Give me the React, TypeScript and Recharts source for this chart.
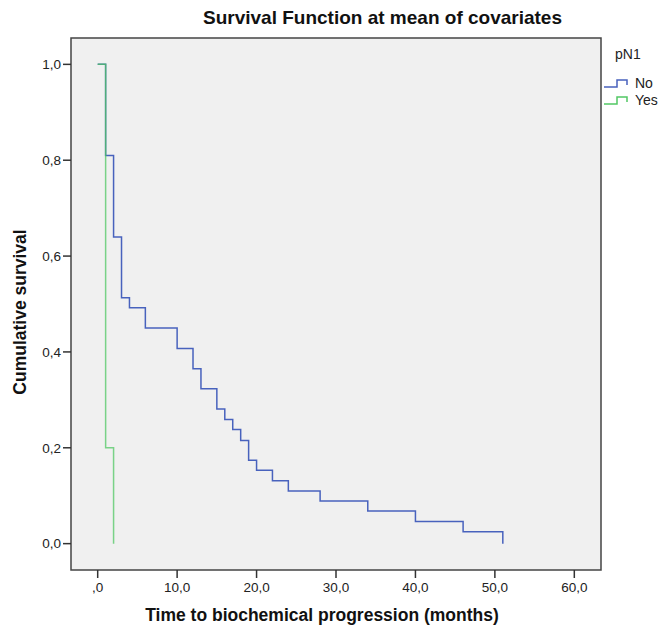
import React from "react";
import {
  LineChart,
  Line,
  XAxis,
  YAxis,
  CartesianGrid,
  ReferenceArea,
} from "recharts";

// Kaplan-Meier estimates, pN1 = No
const noTimes = [0, 1, 2, 3, 4, 6, 10, 12, 13, 15, 16, 17, 18, 19, 20, 22, 24, 28, 34, 40, 46, 51];
const noSurvival = [
  1, 0.81, 0.64, 0.513, 0.492, 0.45, 0.407, 0.365, 0.323, 0.281, 0.259, 0.238, 0.215, 0.174,
  0.153, 0.131, 0.11, 0.089, 0.068, 0.046, 0.025, 0,
];

// pN1 = Yes
const yesTimes = [0, 1, 2];
const yesSurvival = [1, 0.2, 0];

const xTicks = [0, 10, 20, 30, 40, 50, 60];
const yTicks = [0, 0.2, 0.4, 0.6, 0.8, 1];

const groups = [
  { name: "No", color: "#4862bd" },
  { name: "Yes", color: "#52c864" },
];

const noData = noTimes.map((t, i) => ({ t, s: noSurvival[i] }));
const yesData = yesTimes.map((t, i) => ({ t, s: yesSurvival[i] }));

const X_DOMAIN: [number, number] = [-3.36, 63.36];
const Y_DOMAIN: [number, number] = [-0.055, 1.055];

const FONT = "'Liberation Sans', Arial, sans-serif";

// SPSS style decimals: ",0" for zero on the time axis
const fmtX = (v: number) => (v === 0 ? ",0" : v.toFixed(1).replace(".", ","));
const fmtY = (v: number) => v.toFixed(1).replace(".", ",");

const StepIcon = ({ color }: { color: string }) => (
  <svg width={28} height={12} style={{ display: "block" }}>
    <path d="M1,10 H14 V3 H24 V8" fill="none" stroke={color} strokeWidth={1.5} />
  </svg>
);

const LegendBox = () => (
  <div
    style={{
      position: "absolute",
      left: 603,
      top: 46,
      fontFamily: FONT,
      fontSize: 14,
      color: "#222",
    }}
  >
    <div style={{ paddingLeft: 12, marginBottom: 12 }}>pN1</div>
    {groups.map((g) => (
      <div key={g.name} style={{ display: "flex", alignItems: "center", height: 17 }}>
        <StepIcon color={g.color} />
        <span style={{ marginLeft: 4 }}>{g.name}</span>
      </div>
    ))}
  </div>
);

export default function App() {
  return (
    <div style={{ position: "relative", width: 663, height: 631, background: "#fff" }}>
      <style>{`body{margin:0}`}</style>
      <div
        style={{
          position: "absolute",
          left: 203,
          top: 7,
          fontFamily: FONT,
          fontSize: 19,
          fontWeight: "bold",
          color: "#111",
          whiteSpace: "nowrap",
        }}
      >
        Survival Function at mean of covariates
      </div>
      <LineChart
        width={663}
        height={631}
        margin={{ top: 38, right: 62, bottom: 0, left: 0 }}
      >
        <CartesianGrid horizontal={false} vertical={false} fill="#f0f0f0" />
        <XAxis
          type="number"
          dataKey="t"
          domain={X_DOMAIN}
          allowDataOverflow
          ticks={xTicks}
          tickFormatter={fmtX}
          height={61}
          axisLine={false}
          tickLine={{ stroke: "#333", strokeWidth: 1.5 }}
          tickSize={8}
          tickMargin={4}
          tick={{ fill: "#222", fontSize: 13.5, fontFamily: FONT }}
          label={{
            content: () => (
              <text
                x={322}
                y={621}
                textAnchor="middle"
                fontFamily={FONT}
                fontSize={17.5}
                fontWeight="bold"
                fill="#111"
              >
                Time to biochemical progression (months)
              </text>
            ),
          }}
        />
        <YAxis
          type="number"
          dataKey="s"
          domain={Y_DOMAIN}
          allowDataOverflow
          ticks={yTicks}
          tickFormatter={fmtY}
          width={71}
          axisLine={false}
          tickLine={{ stroke: "#333", strokeWidth: 1.5 }}
          tickSize={8}
          tickMargin={2}
          tick={{ fill: "#222", fontSize: 13.5, fontFamily: FONT }}
          label={{
            content: () => (
              <text
                x={26}
                y={312}
                transform="rotate(-90 26 312)"
                textAnchor="middle"
                fontFamily={FONT}
                fontSize={17.5}
                fontWeight="bold"
                fill="#111"
              >
                Cumulative survival
              </text>
            ),
          }}
        />
        <ReferenceArea
          x1={X_DOMAIN[0]}
          x2={X_DOMAIN[1]}
          y1={Y_DOMAIN[0]}
          y2={Y_DOMAIN[1]}
          ifOverflow="visible"
          fill="none"
          stroke="#444"
          strokeWidth={1.5}
        />
        <Line
          data={noData}
          dataKey="s"
          type="stepAfter"
          stroke={groups[0].color}
          strokeWidth={1.5}
          dot={false}
          isAnimationActive={false}
        />
        <Line
          data={yesData}
          dataKey="s"
          type="stepAfter"
          stroke={groups[1].color}
          strokeOpacity={0.75}
          strokeWidth={1.5}
          dot={false}
          isAnimationActive={false}
        />
      </LineChart>
      <LegendBox />
    </div>
  );
}
